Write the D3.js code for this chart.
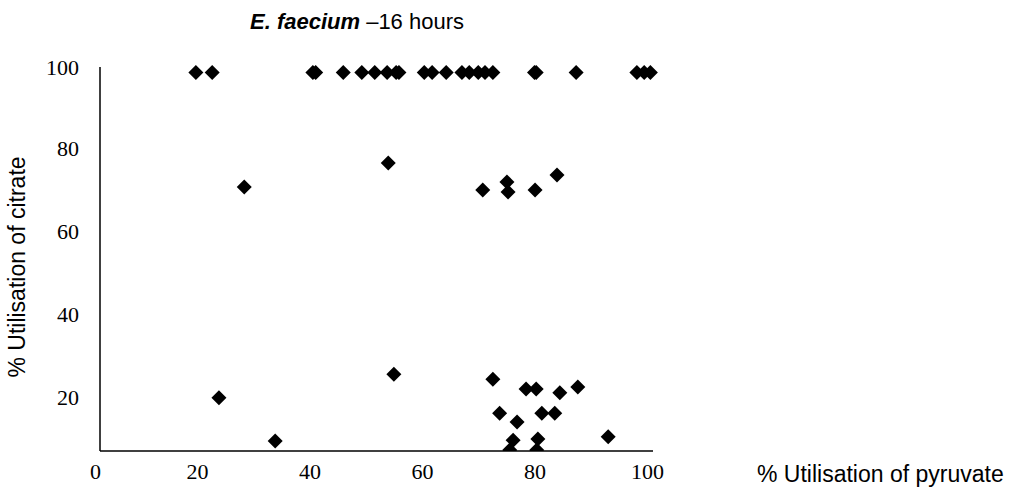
<!DOCTYPE html>
<html>
<head>
<meta charset="utf-8">
<script src="https://cdn.jsdelivr.net/npm/d3@7"></script>
<style>
  html, body { margin: 0; padding: 0; background: #fff; }
  svg { display: block; }
</style>
</head>
<body>
<svg id="chart" width="1018" height="493"></svg>
<script>
// Utilisation of pyruvate (x) vs citrate (y), E. faecium isolates at 16 h
const pyruvate = [
  19.8, 22.7, 40.6, 41.1, 46.0, 49.3, 51.6, 53.8, 55.4, 55.9, 60.4, 61.8, 64.3,
  67.1, 68.4, 70.0, 71.2, 72.6, 80.0, 80.3, 87.4, 98.2, 99.5, 100.6,
  54.0, 28.4, 70.8, 75.1, 75.3, 80.1, 84.0,
  23.9, 33.9, 55.0, 72.6, 78.5, 80.3, 84.5, 87.7, 73.8, 76.9, 81.3, 83.6,
  76.2, 80.6, 93.1, 75.6, 80.4
];
const citrate = [
  98.2, 98.2, 98.2, 98.2, 98.2, 98.2, 98.2, 98.2, 98.2, 98.2, 98.2, 98.2, 98.2,
  98.2, 98.2, 98.2, 98.2, 98.2, 98.2, 98.2, 98.2, 98.2, 98.2, 98.2,
  76.4, 70.6, 69.9, 71.8, 69.4, 69.9, 73.5,
  19.8, 9.4, 25.5, 24.3, 21.9, 21.9, 21.0, 22.4, 16.1, 14.0, 16.1, 16.1,
  9.6, 9.9, 10.4, 7.2, 7.2
];
const xTicks = [0, 20, 40, 60, 80, 100];
const yTicks = [20, 40, 60, 80, 100];

const svg = d3.select("#chart");

const x = d3.scaleLinear().domain([0, 100]).range([84.5, 647]);
const y = d3.scaleLinear().domain([0, 100]).range([480, 65]);

// plot frame
const frame = { left: 100, right: 653, top: 67, bottom: 451 };

svg.append("defs").append("clipPath").attr("id", "plot")
  .append("rect").attr("x", frame.left).attr("y", frame.top - 10)
  .attr("width", frame.right - frame.left + 10).attr("height", frame.bottom - frame.top + 10);

// axis lines
svg.append("line").attr("x1", frame.left).attr("x2", frame.left)
  .attr("y1", frame.top).attr("y2", frame.bottom)
  .attr("stroke", "#000").attr("stroke-width", 1.5);
svg.append("line").attr("x1", frame.left).attr("x2", frame.right)
  .attr("y1", frame.bottom).attr("y2", frame.bottom)
  .attr("stroke", "#000").attr("stroke-width", 1.5);

// tick labels
const serif = "Liberation Serif, Times New Roman, serif";
const sans = "Liberation Sans, Arial, sans-serif";

const yAxis = d3.axisLeft(y).tickValues(yTicks).tickSize(0).tickPadding(0);
const gy = svg.append("g").attr("transform", "translate(79,0)").call(yAxis);
gy.select(".domain").remove();
gy.selectAll("text").attr("font-family", serif)
  .attr("font-size", 22).attr("fill", "#000")
  .attr("dy", d => d === 100 ? "0.45em" : "0.32em");

const xAxis = d3.axisBottom(x).tickValues(xTicks).tickSize(0).tickPadding(0);
const gx = svg.append("g").attr("transform", "translate(0,463)").call(xAxis);
gx.select(".domain").remove();
gx.selectAll("text").attr("font-family", serif)
  .attr("font-size", 22).attr("fill", "#000")
  .attr("dx", d => d === 0 ? 10.5 : 0);

// points
const pts = d3.range(pyruvate.length).map(i => ({ px: pyruvate[i], cy: citrate[i] }));
const diamond = "M0,-7.5L7.5,0L0,7.5L-7.5,0Z";
svg.append("g").attr("clip-path", "url(#plot)")
  .selectAll("path").data(pts).join("path")
  .attr("d", diamond)
  .attr("transform", d => `translate(${x(d.px)},${y(d.cy)})`)
  .attr("fill", "#000");

// titles
const title = svg.append("text").attr("x", 357).attr("y", 29)
  .attr("text-anchor", "middle")
  .attr("font-family", sans).attr("font-size", 22);
title.append("tspan").attr("font-weight", "bold").attr("font-style", "italic").text("E. faecium");
title.append("tspan").text(" \u201316 hours");

svg.append("text").attr("x", 757).attr("y", 482)
  .attr("font-family", sans).attr("font-size", 23)
  .text("% Utilisation of pyruvate");

svg.append("text")
  .attr("transform", "translate(25,267) rotate(-90)")
  .attr("text-anchor", "middle")
  .attr("font-family", sans).attr("font-size", 23)
  .text("% Utilisation of citrate");
</script>
</body>
</html>
